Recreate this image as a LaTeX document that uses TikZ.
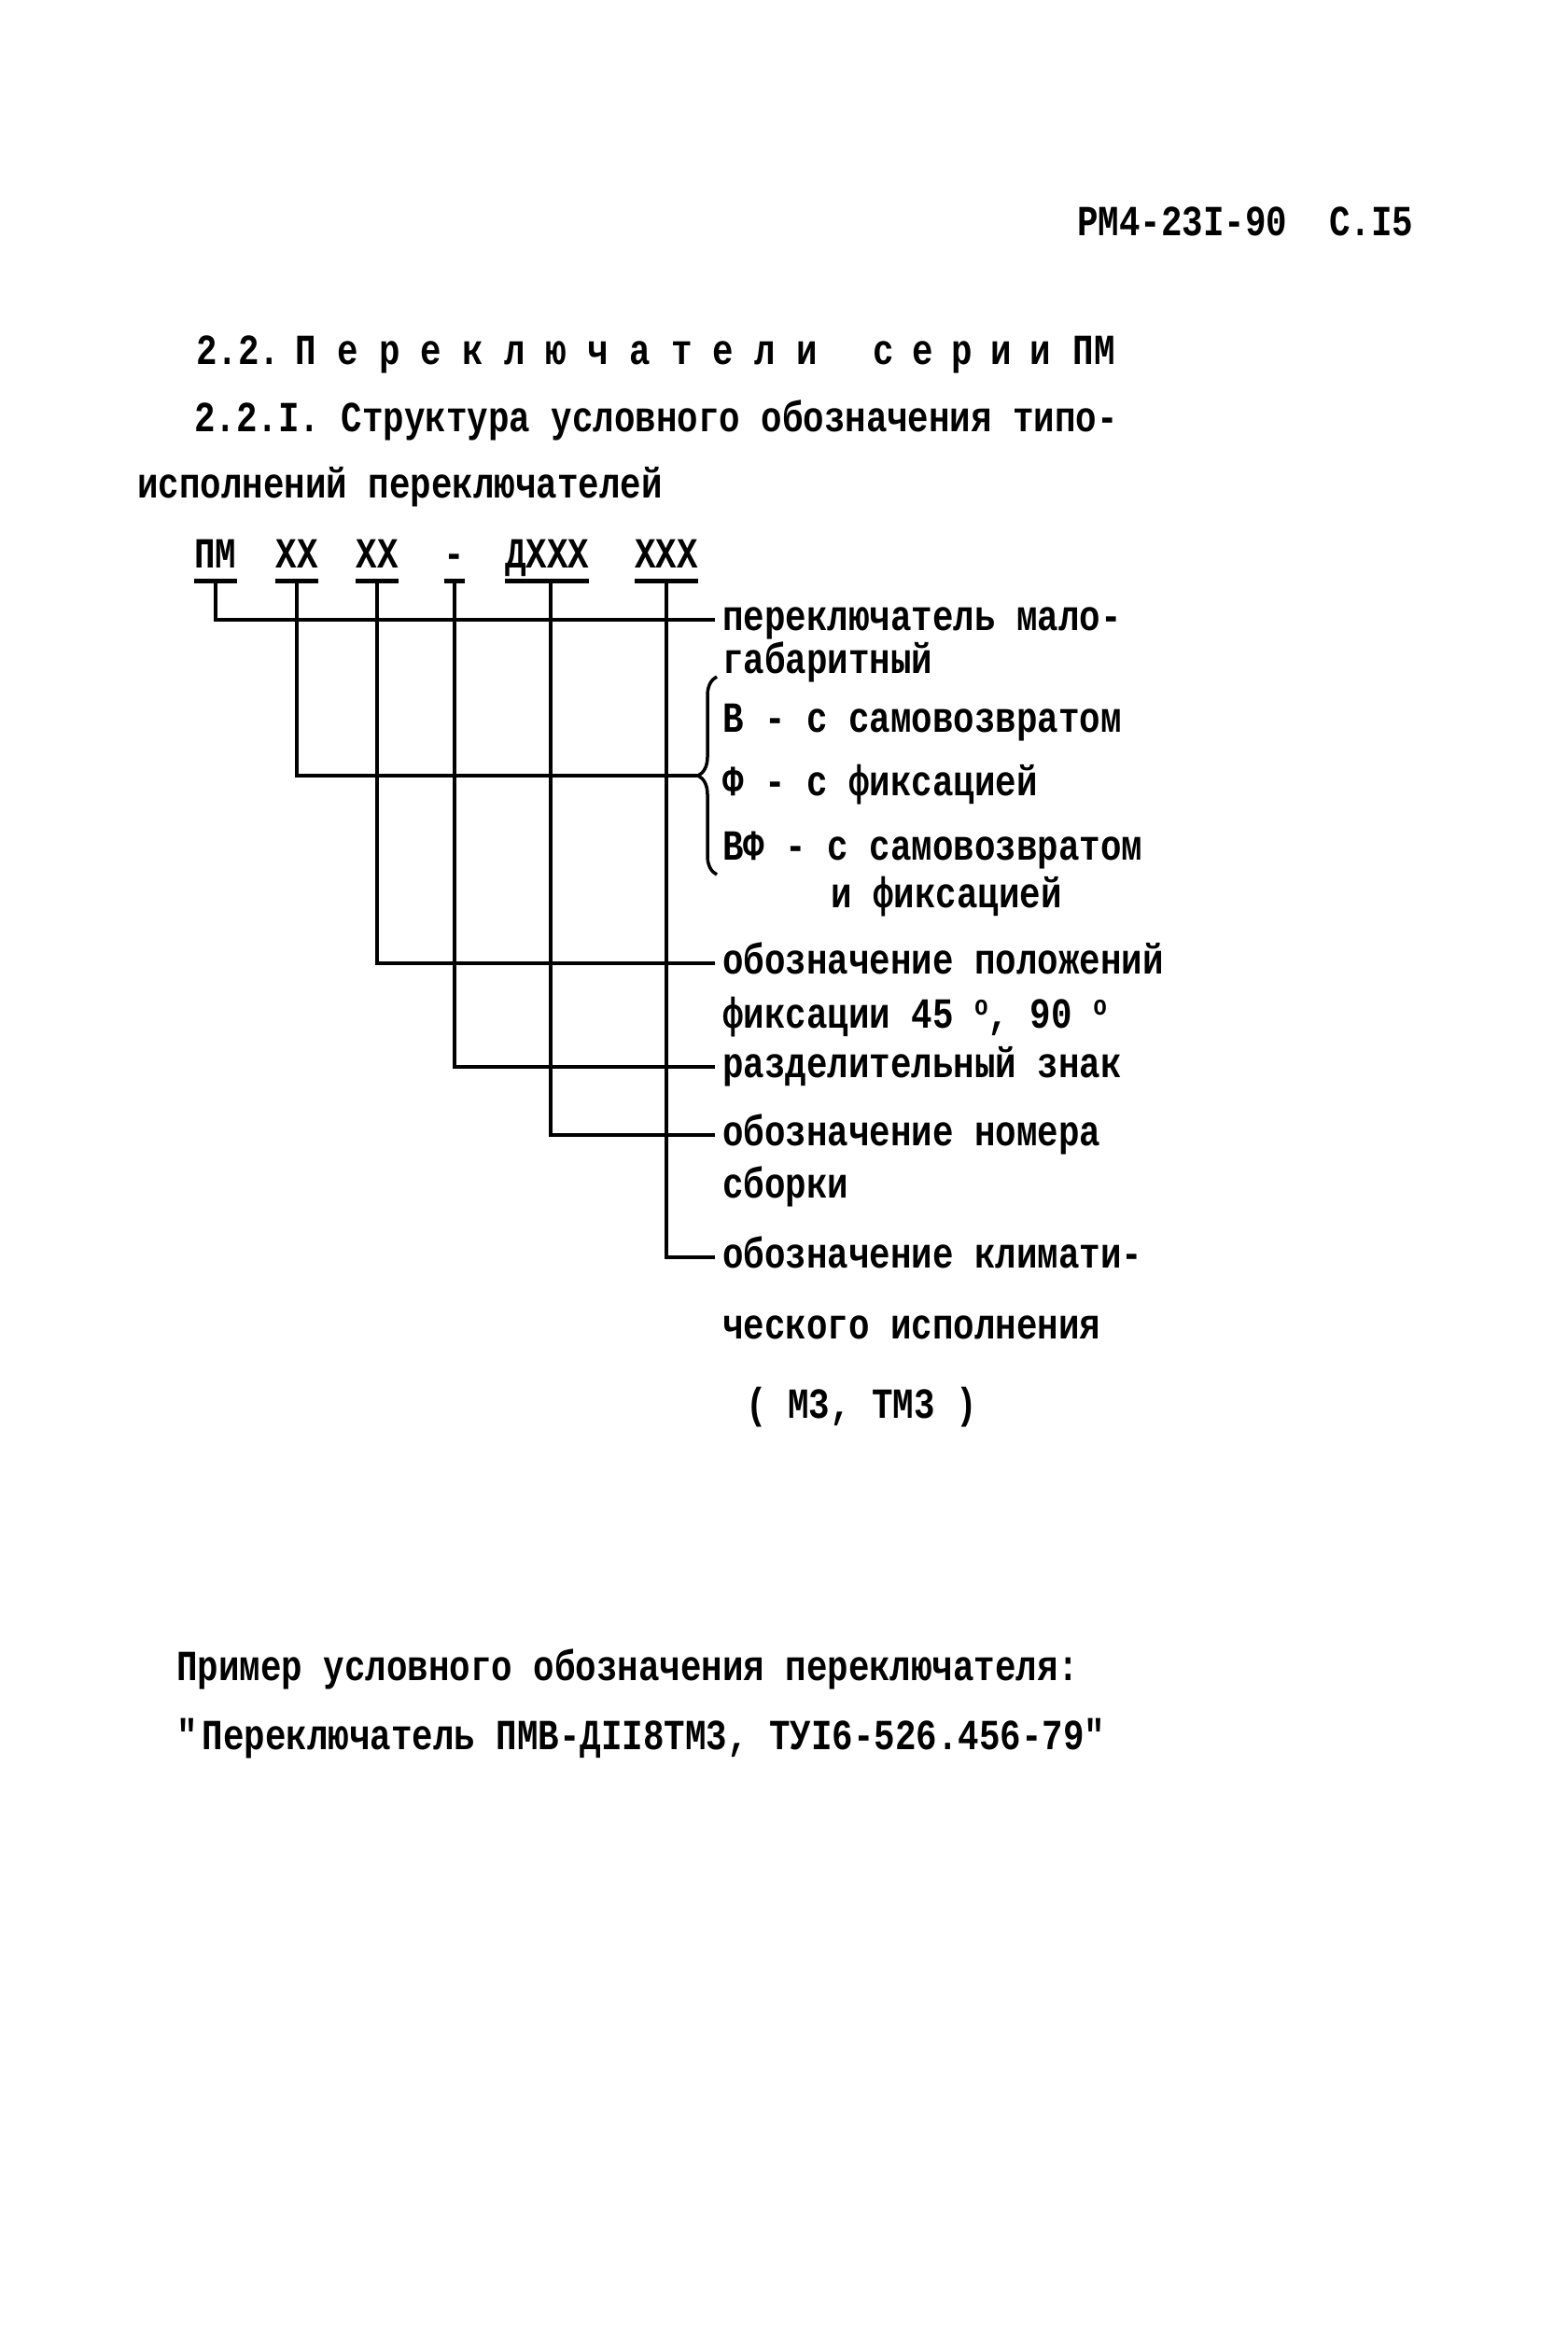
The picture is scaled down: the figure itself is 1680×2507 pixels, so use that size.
\documentclass[tikz,border=0pt]{standalone}
\usepackage{fontspec}
\setmainfont{Liberation Mono}[FakeStretch=0.815]
\usetikzlibrary{decorations.pathreplacing}
\newcommand\upo{\raisebox{14pt}{\fontsize{30}{30}\selectfont о}}

\begin{document}
\begin{tikzpicture}[x=1pt, y=-1pt,
    every node/.style={font=\fontsize{46}{50}\selectfont\bfseries, inner sep=0pt, text height=22pt, text depth=0pt},
    txt/.style={anchor=west},
    lbl/.style={anchor=west, inner xsep=8pt},
    code/.style={anchor=south, text height=32pt},
    conn/.style={line width=4pt},
    uline/.style={line width=5pt}]
    \fill[white] (0,0) rectangle (1680,2507);
    \useasboundingbox (0,0) rectangle (1680,2507);
    \node[txt] (head) at (1154,242) {РМ4-23I-90~~С.I5};
    \node[txt] (sec) at (210,379) {2.2.};
    \foreach \ch [count=\i from 0] in {П,е,р,е,к,л,ю,ч,а,т,е,л,и}
        \node (sa\i) at ({328+44.7*\i},379) {\ch};
    \foreach \ch [count=\i from 0] in {с,е,р,и,и}
        \node (sb\i) at ({947+42*\i},379) {\ch};
    \node (sc) at (1172,379) {ПМ};
    \node[txt] (sub) at (208,451) {2.2.I. Структура условного обозначения типо-};
    \node[txt] (sub2) at (147,522) {исполнений переключателей};

    \node[code] (pm) at (231,609) {ПМ};
    \node[code] (xa) at (318,609) {ХХ};
    \node[code] (xb) at (404,609) {ХХ};
    \node[code] (dh) at (487,609) {-};
    \node[code] (dx) at (586,609) {ДХХХ};
    \node[code] (xc) at (714,609) {ХХХ};
    \foreach \n in {pm,xa,xb,dh,dx,xc}
        \draw[uline] ([yshift=-13pt]\n.south west) -- ([yshift=-13pt]\n.south east) coordinate[midway] (\n-u);

    \node[lbl] (l1) at (766,664) {переключатель мало-};
    \node[txt] (l1b) at (774,710) {габаритный};
    \node[txt] (l2a) at (774,773) {В - с самовозвратом};
    \node[txt] (l2b) at (774,841) {Ф - с фиксацией};
    \node[txt] (l2c) at (774,910) {ВФ - с самовозвратом};
    \node[txt] (l2d) at (890,961) {и фиксацией};
    \node[lbl] (l3) at (766,1032) {обозначение положений};
    \node[txt] (l3b) at (774,1090) {фиксации 45 \upo, 90 \upo};
    \node[lbl] (l4) at (766,1143) {разделительный знак};
    \node[lbl] (l5) at (766,1216) {обозначение номера};
    \node[txt] (l5b) at (774,1272) {сборки};
    \node[lbl] (l6) at (766,1347) {обозначение климати-};
    \node[txt] (l6b) at (774,1423) {ческого исполнения};
    \node[txt] (l6c) at (799,1508) {( М3, ТМ3 )};

    \coordinate (tip) at (748,831);
    \draw[conn] (pm-u) |- (l1.west);
    \draw[conn] (xa-u) |- (tip);
    \draw[conn] (xb-u) |- (l3.west);
    \draw[conn] (dh-u) |- (l4.west);
    \draw[conn] ([xshift=4pt]dx-u) |- (l5.west);
    \draw[conn] (xc-u) |- (l6.west);
    \draw[line width=3.5pt, decorate, decoration={brace, amplitude=20pt}] (768,937) -- (768,725);

    \node[txt] (ex) at (189,1789) {Пример условного обозначения переключателя:};
    \node[txt] (ex2) at (189,1863) {\textquotedbl Переключатель ПМВ-ДII8ТМ3, ТУI6-526.456-79\textquotedbl};
\end{tikzpicture}
\end{document}
